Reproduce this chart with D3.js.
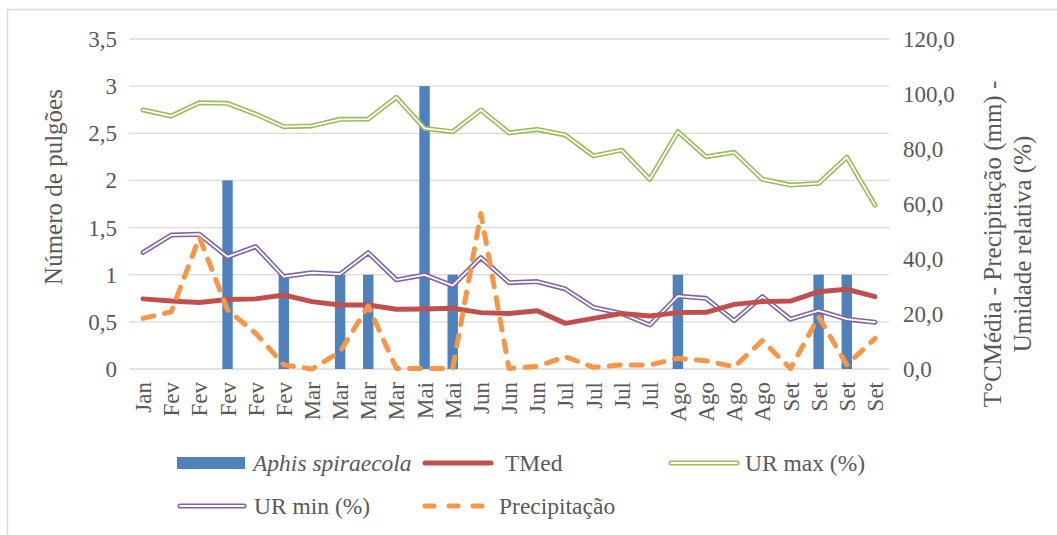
<!DOCTYPE html>
<html>
<head>
<meta charset="utf-8">
<script src="https://cdn.jsdelivr.net/npm/d3@7"></script>
<style>
  body { margin: 0; background: #fff; }
  @font-face { font-family: "ChartSerif"; src: local("Liberation Serif"), local("LiberationSerif"); font-style: normal; }
  @font-face { font-family: "ChartSerif"; src: local("Liberation Serif Italic"), local("LiberationSerif-Italic"); font-style: italic; }
  #viz text { font-family: 'Liberation Serif' !important; fill: #595959; }
</style>
</head>
<body>
<svg id="viz" font-family="Liberation Serif"></svg>
<script>

// the data
var categories = ["Jan", "Fev", "Fev", "Fev", "Fev", "Fev", "Mar", "Mar", "Mar", "Mar",
	"Mai", "Mai", "Jun", "Jun", "Jun", "Jul", "Jul", "Jul", "Jul",
	"Ago", "Ago", "Ago", "Ago", "Set", "Set", "Set", "Set"];

var aphids = [0, 0, 0, 2, 0, 1, 0, 1, 1, 0, 3, 1, 0, 0, 0, 0, 0, 0, 0, 1, 0, 0, 0, 0, 1, 1, 0];

var tmed = [25.5, 24.7, 24.2, 25.3, 25.5, 26.9, 24.5, 23.3, 23.3, 21.7, 21.8, 22.1, 20.5, 20.2,
	21.2, 16.6, 18.4, 20.2, 19.3, 20.5, 20.6, 23.5, 24.5, 24.7, 28.1, 29.0, 26.3];

var urMax = [94.2, 92.0, 96.8, 96.6, 92.7, 88.1, 88.4, 90.8, 90.9, 98.8, 87.5, 86.3, 94.2, 85.9,
	87.1, 85.1, 77.5, 79.6, 69.0, 86.3, 77.2, 78.8, 69.0, 66.9, 67.5, 77.0, 59.6];

var urMin = [42.4, 48.7, 49.0, 40.8, 44.5, 33.6, 35.0, 34.5, 42.3, 32.4, 34.2, 30.3, 40.5, 31.4,
	31.8, 29.1, 22.4, 20.2, 16.0, 26.5, 25.7, 17.6, 26.3, 18.1, 21.2, 18.1, 17.0];

var precip = [18.4, 20.8, 47.9, 21.5, 13.0, 1.5, 0.0, 6.3, 22.9, 0.2, 0.2, 0.2, 56.5, 0.2,
	0.9, 4.5, 0.6, 1.5, 1.5, 3.9, 3.0, 0.8, 10.3, 0.2, 19.0, 1.5, 11.1];

var leftTicks = [0, 0.5, 1, 1.5, 2, 2.5, 3, 3.5];
var rightTicks = [0, 20, 40, 60, 80, 100, 120];

// colours
var cBar = "#4f81bd", cTmed = "#c0504d", cMax = "#9bbb59", cMin = "#8064a2", cRain = "#f79646";
var font = "'Liberation Serif'";

// set up the svg
var w = 1057;
var h = 535;
var svg = d3.select("#viz").attr("width", w).attr("height", h);

var pLeft = 129, pRight = 889, pTop = 39, pBottom = 369;

var idx = d3.range(categories.length);
var x = d3.scaleBand().domain(idx).range([pLeft, pRight]).paddingInner(0.63).paddingOuter(0.315);
var xc = function(i) { return x(i) + x.bandwidth() / 2; };
var yL = d3.scaleLinear().domain([0, 3.5]).range([pBottom, pTop]);
var yR = d3.scaleLinear().domain([0, 120]).range([pBottom, pTop]);
var comma = function(s) { return s.replace(".", ","); };

// chart border
svg.append("rect")
	.attr("x", 7.5).attr("y", 9.5).attr("width", 1200).attr("height", 700)
	.attr("fill", "none").attr("stroke", "#d9d9d9").attr("stroke-width", 1.5);

// gridlines
svg.append("g").selectAll("line")
	.data(leftTicks)
	.enter().append("line")
	.attr("x1", pLeft).attr("x2", pRight)
	.attr("y1", function(d) { return yL(d); })
	.attr("y2", function(d) { return yL(d); })
	.attr("stroke", "#d9d9d9").attr("stroke-width", 1.3);

// plain text helper, font set right on the element
function label(parent, t, size) {
	return parent.append("text").style("font-family", font).style("font-size", size + "px")
		.attr("fill", "#595959").text(t);
}

// left axis labels
leftTicks.forEach(function(d) {
	label(svg, comma(String(d)), 23)
		.attr("x", pLeft - 12).attr("y", yL(d)).attr("dy", "0.35em").attr("text-anchor", "end");
});

// right axis labels
rightTicks.forEach(function(d) {
	label(svg, comma(d3.format(".1f")(d)), 23)
		.attr("x", pRight + 14).attr("y", yR(d)).attr("dy", "0.35em").attr("text-anchor", "start");
});

// x labels
idx.forEach(function(i) {
	label(svg, categories[i], 23)
		.attr("transform", "translate(" + xc(i) + ",382) rotate(-90)")
		.attr("text-anchor", "end").attr("dy", "0.35em");
});

// axis titles
label(svg, "Número de pulgões", 25)
	.attr("transform", "translate(53,187) rotate(-90)")
	.attr("text-anchor", "middle").attr("dy", "0.35em");

var rt = label(svg, "", 25)
	.attr("transform", "translate(992,244) rotate(-90)")
	.attr("text-anchor", "middle");
rt.append("tspan").attr("x", 0).attr("dy", "0.35em").text("T°CMédia - Precipitação (mm) -");
rt.append("tspan").attr("x", 0).attr("dy", "1.22em").text("Umidade relativa (%)");

// bars
svg.append("g").selectAll("rect")
	.data(idx.filter(function(i) { return aphids[i] > 0; }))
	.enter().append("rect")
	.attr("x", function(i) { return x(i); })
	.attr("width", x.bandwidth())
	.attr("y", function(i) { return yL(aphids[i]); })
	.attr("height", function(i) { return pBottom - yL(aphids[i]); })
	.attr("fill", cBar);

// lines
var line = function(vals) {
	return d3.line().x(function(d, i) { return xc(i); }).y(function(d) { return yR(d); })(vals);
};

function doubleLine(vals, col) {
	svg.append("path").attr("d", line(vals)).attr("fill", "none")
		.attr("stroke", col).attr("stroke-width", 5).attr("stroke-linejoin", "round").attr("stroke-linecap", "round");
	svg.append("path").attr("d", line(vals)).attr("fill", "none")
		.attr("stroke", "#fff").attr("stroke-width", 1.8).attr("stroke-linejoin", "round").attr("stroke-linecap", "round");
}

doubleLine(urMax, cMax);
doubleLine(urMin, cMin);

svg.append("path").attr("d", line(tmed)).attr("fill", "none")
	.attr("stroke", cTmed).attr("stroke-width", 5).attr("stroke-linejoin", "round").attr("stroke-linecap", "round");

svg.append("path").attr("d", line(precip)).attr("fill", "none")
	.attr("stroke", cRain).attr("stroke-width", 5).attr("stroke-linejoin", "round").attr("stroke-linecap", "round")
	.attr("stroke-dasharray", "11,11");

// legend
function legText(xp, yp, t, italic) {
	label(svg, t, 23.5).attr("x", xp).attr("y", yp).attr("dy", "0.35em")
		.style("font-style", italic ? "italic" : "normal");
}
svg.append("rect").attr("x", 177).attr("y", 457).attr("width", 68).attr("height", 12).attr("fill", cBar);
legText(253, 463, "Aphis spiraecola", true);

svg.append("line").attr("x1", 425).attr("x2", 491).attr("y1", 463).attr("y2", 463)
	.attr("stroke", cTmed).attr("stroke-width", 5).attr("stroke-linecap", "round");
legText(505, 463, "TMed");

[[671, 737, 463, cMax], [180, 244, 506, cMin]].forEach(function(d) {
	svg.append("line").attr("x1", d[0]).attr("x2", d[1]).attr("y1", d[2]).attr("y2", d[2])
		.attr("stroke", d[3]).attr("stroke-width", 5).attr("stroke-linecap", "round");
	svg.append("line").attr("x1", d[0]).attr("x2", d[1]).attr("y1", d[2]).attr("y2", d[2])
		.attr("stroke", "#fff").attr("stroke-width", 1.8).attr("stroke-linecap", "round");
});
legText(745, 463, "UR max (%)");
legText(254, 506, "UR min (%)");

svg.append("line").attr("x1", 425).attr("x2", 490).attr("y1", 506).attr("y2", 506)
	.attr("stroke", cRain).attr("stroke-width", 5).attr("stroke-linecap", "round")
	.attr("stroke-dasharray", "9,15");
legText(499, 506, "Precipitação");

</script>
</body>
</html>
